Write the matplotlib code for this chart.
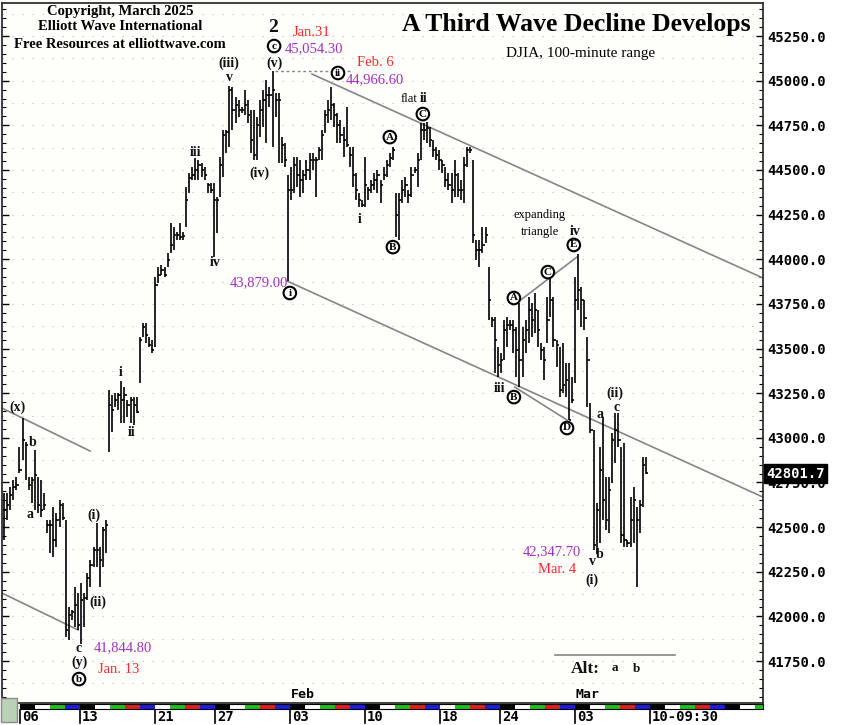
import numpy as np
import pandas as pd
import matplotlib
matplotlib.use("Agg")
import matplotlib.pyplot as plt
from matplotlib.patches import Rectangle
import matplotlib.transforms as mtransforms

# Barras de 100 minutos del DJIA (máximo, mínimo, cierre)
highs = [42690, 42690, 42725, 42765, 42780, 42950, 43110, 42975, 42780, 42780,
         42930, 42780, 42765, 42690, 42540, 42540, 42615, 42580, 42650, 42635,
         42540, 42055, 42035, 42165, 42130, 42185, 42130, 42245, 42315, 42390,
         42525, 42390, 42500, 42540, 43270, 43240, 43250, 43250, 43320, 43285,
         43210, 43230, 43230, 43230, 43565, 43645, 43645, 43565, 43550, 43900,
         43955, 43970, 43955, 44035, 44205, 44180, 44150, 44205, 44150, 44405,
         44485, 44515, 44565, 44555, 44540, 44515, 44425, 44425, 44425, 44350,
         44575, 44725, 44725, 44970, 44965, 44910, 44890, 44855, 44950, 44890,
         44835, 44835, 44795, 44890, 44950, 45005, 44965, 45054, 44930, 44930,
         44685, 44650, 44470, 44515, 44575, 44575, 44555, 44500, 44555, 44595,
         44595, 44575, 44630, 44725, 44835, 44890, 44967, 44875, 44820, 44780,
         44740, 44855, 44630, 44630, 44485, 44370, 44330, 44575, 44405, 44445,
         44485, 44500, 44445, 44515, 44555, 44595, 44630, 44370, 44370, 44445,
         44460, 44390, 44515, 44515, 44595, 44765, 44765, 44770, 44740, 44670,
         44630, 44610, 44555, 44515, 44485, 44485, 44555, 44485, 44445, 44575,
         44630, 44630, 44555, 44110, 44110, 44180, 44180, 43955, 43675, 43675,
         43510, 43475, 43660, 43675, 43660, 43660, 43620, 43755, 43620, 43660,
         43790, 43755, 43810, 43715, 43530, 43510, 43790, 43925, 43790, 43550,
         43510, 43530, 43420, 43420, 43340, 43900, 44030, 43845, 43770, 43565,
         43195, 43045, 42635, 42950, 43115, 42780, 42780, 43025, 43140, 43140,
         42950, 42970, 42430, 42670, 42725, 42615, 42650, 42895, 42895]
lows = [42430, 42540, 42595, 42650, 42710, 42805, 42875, 42765, 42710, 42635,
        42595, 42580, 42555, 42595, 42465, 42355, 42335, 42390, 42500, 42540,
        41885, 41870, 41980, 41940, 41925, 41845, 41940, 42090, 42165, 42275,
        42275, 42165, 42275, 42355, 42920, 43035, 43175, 43155, 43085, 43085,
        43115, 43085, 43070, 43140, 43305, 43565, 43530, 43510, 43475, 43510,
        43865, 43910, 43900, 43955, 44035, 44050, 44110, 44110, 44110, 44180,
        44370, 44445, 44445, 44445, 44460, 44445, 44370, 44370, 44010, 44145,
        44350, 44460, 44595, 44630, 44725, 44765, 44795, 44820, 44810, 44765,
        44595, 44555, 44555, 44685, 44740, 44650, 44855, 44630, 44795, 44540,
        44540, 44515, 43879, 44330, 44370, 44405, 44350, 44370, 44445, 44445,
        44500, 44350, 44555, 44555, 44705, 44765, 44780, 44740, 44650, 44650,
        44575, 44630, 44515, 44405, 44330, 44295, 44295, 44295, 44330, 44370,
        44390, 44370, 44315, 44445, 44460, 44515, 44555, 44125, 44110, 44315,
        44350, 44315, 44350, 44485, 44405, 44555, 44670, 44650, 44630, 44575,
        44555, 44500, 44485, 44405, 44390, 44315, 44350, 44350, 44330, 44315,
        44515, 44595, 44090, 43995, 43955, 44035, 44090, 43660, 43620, 43365,
        43340, 43365, 43435, 43510, 43605, 43475, 43340, 43285, 43340, 43475,
        43530, 43565, 43585, 43510, 43435, 43325, 43530, 43675, 43510, 43395,
        43230, 43250, 43230, 43100, 43195, 43305, 43715, 43620, 43605, 43170,
        43025, 42370, 42348, 42410, 42540, 42485, 42465, 42745, 42860, 42950,
        42410, 42390, 42390, 42390, 42410, 42165, 42465, 42615, 42800]
closes = [42595, 42625, 42680, 42725, 42735, 42820, 42990, 42960, 42735, 42765,
          42790, 42625, 42595, 42625, 42510, 42510, 42430, 42540, 42625, 42550,
          41925, 42010, 42025, 42065, 41950, 42090, 42105, 42215, 42290, 42370,
          42370, 42315, 42485, 42510, 43185, 43155, 43210, 43240, 43210, 43240,
          43185, 43210, 43185, 43145, 43550, 43620, 43575, 43520, 43490, 43855,
          43910, 43940, 43910, 43995, 44080, 44135, 44135, 44125, 44130, 44330,
          44455, 44470, 44500, 44530, 44500, 44470, 44415, 44390, 44330, 44330,
          44530, 44695, 44715, 44950, 44835, 44865, 44835, 44835, 44865, 44810,
          44670, 44585, 44750, 44835, 44890, 44920, 44920, 44950, 44890, 44890,
          44640, 44555, 44390, 44390, 44530, 44470, 44445, 44470, 44500, 44555,
          44555, 44555, 44610, 44695, 44810, 44835, 44865, 44810, 44750, 44695,
          44670, 44640, 44585, 44470, 44390, 44330, 44305, 44415, 44390, 44415,
          44445, 44470, 44415, 44470, 44530, 44565, 44610, 44250, 44330, 44390,
          44415, 44360, 44470, 44500, 44555, 44725, 44725, 44735, 44670, 44610,
          44585, 44555, 44530, 44445, 44415, 44390, 44470, 44390, 44390, 44530,
          44610, 44610, 44135, 44050, 44050, 44080, 44135, 43770, 43660, 43550,
          43410, 43435, 43605, 43630, 43630, 43605, 43490, 43435, 43550, 43605,
          43715, 43660, 43715, 43605, 43490, 43435, 43660, 43770, 43550, 43520,
          43270, 43295, 43325, 43100, 43210, 43770, 43830, 43770, 43670, 43435,
          43045, 42400, 42595, 42820, 42650, 42540, 42710, 42990, 43045, 42990,
          42455, 42430, 42410, 42540, 42650, 42540, 42625, 42850, 42801.7]

# Sesiones (días hábiles) para la banda de colores del eje temporal
festivos = ["2025-01-09", "2025-01-20", "2025-02-17"]
dias = pd.bdate_range("2025-01-06", "2025-03-21").drop(pd.to_datetime(festivos))
etiquetas_fecha = [("2025-01-06", "06"), ("2025-01-13", "13"), ("2025-01-21", "21"),
                   ("2025-01-27", "27"), ("2025-02-03", "03"), ("2025-02-10", "10"),
                   ("2025-02-18", "18"), ("2025-02-24", "24"), ("2025-03-03", "03"),
                   ("2025-03-10", "10-09:30")]
meses = [("2025-02-03", "Feb"), ("2025-03-03", "Mar")]

precios_eje = np.arange(41750, 45251, 250)

SERIF = "Liberation Serif"
MONO = "DejaVu Sans Mono"
ROJO = "#ff2828"
MORADO = "#a032c0"
GRIS = "#858585"


def dia_x(d):
    # posición (en barras) del inicio de la sesión d
    return 5.18 + 4.859 * d


fig = plt.figure(figsize=(8.41, 7.25), dpi=100)
fig.patch.set_facecolor("white")
ax = fig.add_axes([2 / 841, 22 / 725, 761 / 841, 700 / 725])
ax.set_facecolor("#fefefb")

x = np.arange(len(highs))
ax.vlines(x, lows, highs, color="black", lw=1.2, zorder=3)
ax.hlines(closes, x, x + 0.75, color="black", lw=1.2, zorder=3)

ax.set_xlim(-0.65, 245.9)
ax.set_ylim(41515, 45435)

# rejilla punteada
for p in np.arange(41625, 45435, 125):
    ax.axhline(p, color="#b8b8b8", lw=0.8, ls=(0, (1, 8)), zorder=0)

# ejes
ax.set_yticks(precios_eje)
ax.set_yticklabels([f"{v:.1f}" for v in precios_eje])
ax.set_yticks(np.arange(41550, 45435, 50), minor=True)
ax.yaxis.set_ticks_position("both")
ax.tick_params(axis="y", which="major", direction="in", length=5, width=1,
               labelleft=False, labelright=True, pad=3)
ax.tick_params(axis="y", which="minor", direction="in", length=3, width=0.8)
ax.tick_params(axis="x", bottom=False, labelbottom=False)
for t in ax.get_yticklabels():
    t.set_fontfamily(MONO)
    t.set_fontweight("bold")
    t.set_fontsize(10)
for s in ax.spines.values():
    s.set_color("#303030")
    s.set_linewidth(1.3)

# líneas de canal y triángulo
lineas = [((99.8, 45037), (245.9, 43895)),
          ((91.7, 43878), (245.9, 42668)),
          ((166.5, 43760), (185.6, 44012)),
          ((165.5, 43284), (182.4, 43100)),
          ((-1.3, 43172), (27.9, 42926)),
          ((-1.3, 42136), (24.0, 41924)),
          ((178.5, 41784), (217.4, 41784))]
for (x0, y0), (x1, y1) in lineas:
    ax.plot([x0, x1], [y0, y1], color=GRIS, lw=1.2, zorder=2, clip_on=True)
ax.hlines(45054.3, 87.8, 112.7, colors=GRIS, linestyles=(0, (2, 2)), lw=1, zorder=2)

# etiquetas de ondas
ondas = [("(iii)", 72.9, 45099, 10), ("v", 72.9, 45020, 10), ("2", 87.1, 45295, 14),
         ("(v)", 87.5, 45099, 10), ("iii", 62.2, 44600, 10), ("(iv)", 82.6, 44483, 10),
         ("iv", 68.4, 43979, 10), ("i", 37.9, 43363, 10), ("ii", 41.5, 43027, 10),
         ("(x)", 4.5, 43172, 10), ("b", 9.4, 42971, 10), ("a", 8.4, 42568, 10),
         ("(i)", 29.2, 42568, 10), ("(ii)", 30.5, 42080, 10), ("c", 24.3, 41823, 10),
         ("(y)", 24.3, 41744, 10), ("ii", 136.0, 44903, 10), ("i", 115.3, 44220, 10),
         ("iv", 185.0, 44158, 10), ("iii", 160.4, 43279, 10), ("(ii)", 197.9, 43251, 10),
         ("c", 198.3, 43172, 10), ("a", 193.1, 43128, 10), ("v", 190.8, 42305, 10),
         ("b", 193.1, 42344, 10), ("(i)", 190.5, 42204, 10), ("Alt:", 188.2, 41705, 12.5),
         ("a", 197.9, 41711, 9.5), ("b", 205.0, 41705, 9.5)]
for txt, xx, yy, fs in ondas:
    ax.text(xx, yy, txt, ha="center", va="center", fontsize=fs, fontweight="bold",
            family=SERIF, color="#111111", zorder=5)

circulos = [("c", 87.5, 45194), ("b", 24.3, 41649), ("ii", 108.2, 45043),
            ("C", 135.7, 44813), ("A", 125.0, 44684), ("B", 126.0, 44068),
            ("i", 92.6, 43811), ("E", 184.6, 44080), ("C", 176.2, 43928),
            ("A", 165.2, 43783), ("B", 165.2, 43228), ("D", 182.4, 43055)]
for txt, xx, yy in circulos:
    ax.text(xx, yy, txt, ha="center", va="center", fontsize=8, fontweight="bold",
            family=SERIF, zorder=6,
            bbox=dict(boxstyle="circle,pad=0.16", fc="white", ec="black", lw=1.5))

notas = [("Jan.31", 93.6, 45267, ROJO, "left"), ("45,054.30", 91.0, 45177, MORADO, "left"),
         ("Feb. 6", 114.3, 45099, ROJO, "left"), ("44,966.60", 110.8, 45004, MORADO, "left"),
         ("43,879.00", 92.0, 43867, MORADO, "right"), ("41,844.80", 29.2, 41823, MORADO, "left"),
         ("Jan. 13", 30.5, 41705, ROJO, "left"), ("42,347.70", 186.9, 42360, MORADO, "right"),
         ("Mar. 4", 185.3, 42260, ROJO, "right")]
for txt, xx, yy, col, ha in notas:
    ax.text(xx, yy, txt, ha=ha, va="center", fontsize=10.5, family=SERIF, color=col, zorder=5)

ax.text(131.2, 44897, "flat", ha="center", va="center", fontsize=9, family=SERIF, zorder=5)
ax.text(173.6, 44248, "expanding", ha="center", va="center", fontsize=9, family=SERIF, zorder=5)
ax.text(173.6, 44152, "triangle", ha="center", va="center", fontsize=9, family=SERIF, zorder=5)

# banda de días y etiquetas del eje temporal
trans = mtransforms.blended_transform_factory(ax.transData, ax.transAxes)
colores_dia = {0: "black", 1: "white", 2: "#1cc21c", 3: "#e01c1c", 4: "#1c1ce0"}
for d, dia in enumerate(dias):
    x0 = dia_x(d)
    if x0 > 245.9:
        break
    w = min(dia_x(d + 1), 245.9) - x0
    ax.add_patch(Rectangle((x0, -6 / 700), w, 5 / 700, transform=trans,
                           fc=colores_dia[dia.weekday()], ec="none", clip_on=False, zorder=1))
ax.add_patch(Rectangle((dia_x(0), -6 / 700), 245.9 - dia_x(0), 5 / 700, transform=trans,
                       fc="none", ec="black", lw=0.8, clip_on=False, zorder=2))

pos = {str(d.date()): i for i, d in enumerate(dias)}
for fecha, lab in etiquetas_fecha:
    xd = dia_x(pos[fecha])
    ax.plot([xd, xd], [-7 / 700, -20 / 700], color="black", lw=1.2,
            transform=trans, clip_on=False)
    ax.text(xd + 0.6, -14 / 700, lab, transform=trans, ha="left", va="center",
            fontsize=10, fontweight="bold", family=MONO)
for fecha, lab in meses:
    ax.text(dia_x(pos[fecha]) + 0.3, 1.5 / 700, lab, transform=trans, ha="left",
            va="bottom", fontsize=9.5, fontweight="bold", family=MONO)

# títulos
fig.text(576 / 841, 1 - 25 / 725, "A Third Wave Decline Develops", ha="center", va="center",
         fontsize=18.5, fontweight="bold", family=SERIF)
fig.text(581 / 841, 1 - 53 / 725, "DJIA, 100-minute range", ha="center", va="center",
         fontsize=11, family=SERIF)
for txt, yy in [("Copyright, March 2025", 11), ("Elliott Wave International", 27),
                ("Free Resources at elliottwave.com", 44)]:
    fig.text(120 / 841, 1 - yy / 725, txt, ha="center", va="center", fontsize=10.5,
             fontweight="bold", family=SERIF)

# último precio
fig.text(766 / 841, 1 - 473.5 / 725, f"{closes[-1]:.1f}", ha="left", va="center",
         fontsize=10, fontweight="bold", family=MONO, color="white",
         bbox=dict(boxstyle="square,pad=0.15", fc="black", ec="black"))

fig.patches.append(Rectangle((1 / 841, 3 / 725), 16 / 841, 24 / 725, transform=fig.transFigure,
                             fc="#b9d1b4", ec="#8a8a8a", lw=1))

fig.savefig("out.png", dpi=100)
